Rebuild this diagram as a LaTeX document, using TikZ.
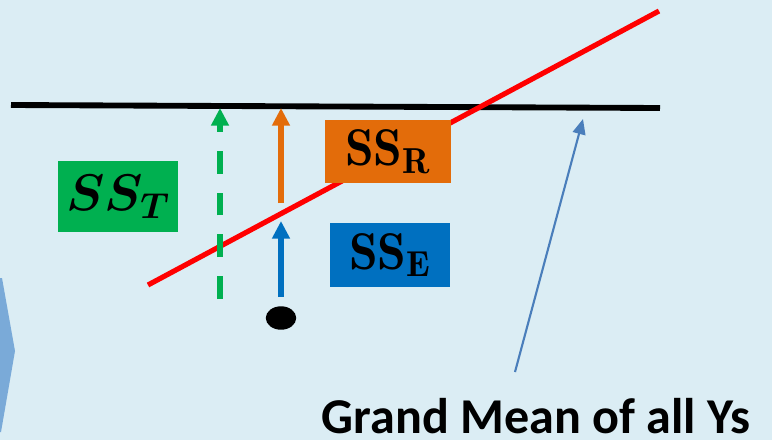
\RequirePackage{fix-cm}
\documentclass[tikz,border=0pt]{standalone}
\usepackage{fontspec}
\usepackage{bm}
\newfontfamily\calibri{Carlito}
\usetikzlibrary{arrows.meta,shapes.geometric}
\definecolor{bgblue}{RGB}{219,237,244}
\definecolor{chevblue}{RGB}{122,170,216}
\definecolor{ssgreen}{RGB}{0,176,80}
\definecolor{ssorange}{RGB}{227,108,10}
\definecolor{ssblue}{RGB}{0,112,192}
\definecolor{pointer}{RGB}{74,126,187}
\begin{document}
\begin{tikzpicture}[x=0.03cm,y=-0.03cm]
		\tikzstyle{ssbox}=[inner sep=0pt, text=black]
		\tikzstyle{vec}=[line width=4.6pt, -{Triangle[width=14.5pt,length=15pt]}]
		\fill [bgblue] (0,0) rectangle (772,440);
		\useasboundingbox (0,0) rectangle (772,440);
		% chevron on the left
		\fill [chevblue] (0,278) -- (2,278) -- (15,351) -- (1,432) -- (0,432) -- cycle;
		% grand mean and fitted line
		\coordinate (meanL) at (11,105);
		\coordinate (meanR) at (660,108);
		\draw [black, line width=5pt] (meanL) -- (meanR);
		\coordinate (fitL) at (148,285);
		\coordinate (fitR) at (659,11);
		\draw [red, line width=4.4pt] (fitL) -- (fitR);
		% one observation
		\node (obs) [ellipse, fill=black, minimum width=26pt, minimum height=20pt, inner sep=0pt] at (281,318) {};
		\coordinate (greenB) at (220,299);
		\coordinate (greenT) at (220,108);
		\coordinate (fitP) at (281,203);
		\coordinate (meanP) at (281,108);
		\coordinate (errB) at (281,297);
		\coordinate (errT) at (281,221);
		\draw [vec, ssgreen, dash pattern=on 19.5pt off 16.2pt] (greenB) -- (greenT);
		\draw [vec, ssorange] (fitP) -- (meanP);
		\draw [vec, ssblue] (errB) -- (errT);
		% labels
		\node (sst) [ssbox, fill=ssgreen, minimum width=102pt, minimum height=60pt] at (118,196.5)
			{\fontsize{44}{44}\selectfont $\bm{SS_{T}}$};
		\node (ssr) [ssbox, fill=ssorange, minimum width=107pt, minimum height=53.5pt] at (388,151.5)
			{\fontsize{44}{44}\selectfont $\mathbf{SS}_{\mathbf{R}}$};
		\node (sse) [ssbox, fill=ssblue, minimum width=102pt, minimum height=54pt] at (390,255)
			{\fontsize{44}{44}\selectfont $\mathbf{SS}_{\mathbf{E}}$};
		\node (grand) [inner sep=0pt, anchor=base, text depth=0pt] at (536,433)
			{\calibri\bfseries\fontsize{42.8}{42.8}\selectfont Grand Mean of all Ys};
		\coordinate (pointBase) at (515,372);
		\coordinate (pointTip) at (583,119);
		\draw [pointer, line width=1.8pt, -{Triangle[width=11pt,length=13pt]}] (pointBase) -- (pointTip);
	\end{tikzpicture}
\end{document}
